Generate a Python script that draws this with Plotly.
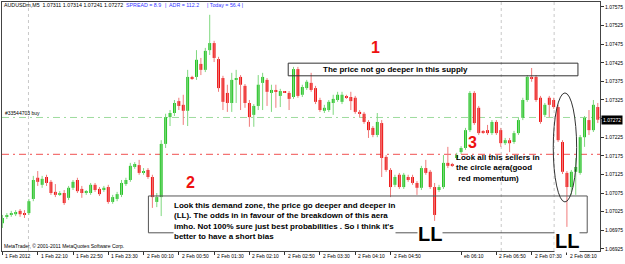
import plotly.graph_objects as go

# ---------------- data (AUDUSDm, M5) ----------------
open_p = [1.06994,1.07011,1.07016,1.07018,1.07027,1.07021,1.07021,1.07059,1.07116,1.07097,
          1.07118,1.07105,1.07078,1.07072,1.07075,1.07062,1.07089,1.07110,1.07086,1.07075,
          1.07075,1.07097,1.07086,1.07083,1.07091,1.07051,1.07059,1.07070,1.07099,1.07110,
          1.07145,1.07150,1.07129,1.07137,1.07118,1.07051,1.07064,1.07207,1.07279,1.07290,
          1.07322,1.07312,1.07296,1.07387,1.07387,1.07422,1.07406,1.07459,1.07478,1.07435,
          1.07384,1.07344,1.07317,1.07379,1.07387,1.07363,1.07317,1.07285,1.07309,1.07371,
          1.07379,1.07344,1.07352,1.07336,1.07348,1.07344,1.07333,1.07408,1.07339,1.07357,
          1.07371,1.07357,1.07325,1.07296,1.07298,1.07317,1.07325,1.07320,1.07334,1.07333,
          1.07331,1.07293,1.07288,1.07266,1.07250,1.07231,1.07263,1.07172,1.07137,1.07097,
          1.07124,1.07091,1.07118,1.07118,1.07102,1.07089,1.07142,1.07132,1.07091,1.07083,
          1.07091,1.07156,1.07151,1.07169,1.07185,1.07196,1.07244,1.07344,1.07304,1.07240,
          1.07244,1.07236,1.07266,1.07244,1.07209,1.07217,1.07212,1.07236,1.07277,1.07325,
          1.07387,1.07387,1.07331,1.07285,1.07331,1.07325,1.07306,1.07212,1.07129,1.07091,
          1.07132,1.07129,1.07225,1.07271,1.07244,1.07306]
high_p = [1.07016,1.07021,1.07027,1.07029,1.07032,1.07029,1.07059,1.07121,1.07134,1.07121,
          1.07124,1.07110,1.07099,1.07080,1.07083,1.07094,1.07110,1.07116,1.07094,1.07083,
          1.07102,1.07102,1.07091,1.07094,1.07097,1.07070,1.07078,1.07110,1.07116,1.07156,
          1.07158,1.07164,1.07142,1.07142,1.07124,1.07075,1.07217,1.07288,1.07298,1.07325,
          1.07331,1.07339,1.07406,1.07390,1.07459,1.07438,1.07465,1.07554,1.07484,1.07441,
          1.07390,1.07366,1.07398,1.07406,1.07392,1.07368,1.07325,1.07314,1.07392,1.07398,
          1.07384,1.07366,1.07366,1.07355,1.07349,1.07349,1.07414,1.07414,1.07366,1.07379,
          1.07398,1.07363,1.07331,1.07312,1.07325,1.07339,1.07347,1.07347,1.07339,1.07347,
          1.07336,1.07298,1.07293,1.07271,1.07255,1.07290,1.07271,1.07177,1.07142,1.07124,
          1.07129,1.07129,1.07124,1.07124,1.07107,1.07148,1.07164,1.07137,1.07102,1.07097,
          1.07177,1.07199,1.07156,1.07183,1.07201,1.07250,1.07349,1.07349,1.07309,1.07244,
          1.07258,1.07271,1.07271,1.07250,1.07223,1.07223,1.07242,1.07277,1.07331,1.07392,
          1.07411,1.07392,1.07336,1.07317,1.07336,1.07331,1.07312,1.07217,1.07134,1.07137,
          1.07169,1.07231,1.07282,1.07298,1.07325,1.07317]
low_p = [1.06981,1.07005,1.07011,1.07013,1.07011,1.07008,1.07016,1.07053,1.07094,1.07089,
         1.07094,1.07070,1.07064,1.07067,1.07043,1.07056,1.07083,1.07075,1.07062,1.07070,
         1.07070,1.07078,1.07067,1.07078,1.07046,1.07046,1.07053,1.07064,1.07094,1.07105,
         1.07140,1.07124,1.07124,1.07113,1.07035,1.07037,1.07013,1.07196,1.07255,1.07282,
         1.07298,1.07258,1.07255,1.07379,1.07379,1.07392,1.07400,1.07446,1.07427,1.07347,
         1.07298,1.07293,1.07293,1.07317,1.07298,1.07304,1.07253,1.07253,1.07298,1.07298,
         1.07309,1.07293,1.07304,1.07306,1.07344,1.07298,1.07328,1.07331,1.07333,1.07352,
         1.07347,1.07314,1.07293,1.07290,1.07293,1.07285,1.07320,1.07314,1.07328,1.07298,
         1.07288,1.07279,1.07261,1.07223,1.07225,1.07225,1.07118,1.07132,1.07064,1.07091,
         1.07086,1.07086,1.07105,1.07097,1.07070,1.07083,1.07124,1.07086,1.07000,1.07078,
         1.07086,1.07142,1.07145,1.07164,1.07180,1.07191,1.07239,1.07258,1.07231,1.07234,
         1.07231,1.07231,1.07231,1.07199,1.07204,1.07185,1.07207,1.07231,1.07271,1.07320,
         1.07374,1.07320,1.07261,1.07279,1.07279,1.07301,1.07212,1.07126,1.06984,1.07070,
         1.07070,1.07124,1.07199,1.07231,1.07239,1.07263]
close_p = [1.07008,1.07016,1.07021,1.07024,1.07018,1.07016,1.07053,1.07110,1.07105,1.07113,
           1.07102,1.07075,1.07070,1.07075,1.07048,1.07089,1.07105,1.07080,1.07075,1.07078,
           1.07097,1.07083,1.07072,1.07089,1.07051,1.07064,1.07072,1.07102,1.07110,1.07148,
           1.07153,1.07129,1.07134,1.07118,1.07064,1.07064,1.07207,1.07279,1.07290,1.07317,
           1.07309,1.07296,1.07387,1.07384,1.07433,1.07406,1.07457,1.07478,1.07438,1.07357,
           1.07320,1.07317,1.07379,1.07384,1.07366,1.07317,1.07279,1.07309,1.07366,1.07387,
           1.07347,1.07352,1.07347,1.07349,1.07346,1.07328,1.07408,1.07336,1.07360,1.07374,
           1.07352,1.07320,1.07298,1.07304,1.07320,1.07328,1.07339,1.07339,1.07332,1.07322,
           1.07293,1.07288,1.07266,1.07244,1.07231,1.07266,1.07169,1.07137,1.07091,1.07118,
           1.07091,1.07124,1.07110,1.07102,1.07089,1.07142,1.07129,1.07091,1.07016,1.07091,
           1.07156,1.07148,1.07149,1.07177,1.07196,1.07244,1.07344,1.07263,1.07236,1.07238,
           1.07236,1.07266,1.07236,1.07209,1.07217,1.07209,1.07236,1.07271,1.07325,1.07387,
           1.07384,1.07325,1.07266,1.07312,1.07312,1.07306,1.07217,1.07132,1.07091,1.07132,
           1.07145,1.07225,1.07277,1.07244,1.07312,1.07272]

time_label_idx = [0, 8, 16, 24, 32, 40, 48, 56, 64, 72, 80, 88, 104, 112, 120, 128]
time_labels = ["1 Feb 2012", "1 Feb 22:10", "1 Feb 22:50", "1 Feb 23:30", "2 Feb 00:10",
               "2 Feb 00:50", "2 Feb 01:30", "2 Feb 02:10", "2 Feb 02:50", "2 Feb 03:30",
               "2 Feb 04:10", "2 Feb 04:50", "eb 06:10", "2 Feb 06:50", "2 Feb 07:30",
               "2 Feb 08:10"]
price_ticks = [1.06925, 1.06975, 1.07025, 1.07075, 1.07125, 1.07175, 1.07225,
               1.07275, 1.07325, 1.07375, 1.07425, 1.07475, 1.07525, 1.07575]
price_tick_text = ["1.06925", "1.06975", "1.07025", "1.07075", "1.07125", "1.07175", "1.07225",
                   "", "1.07325", "1.07375", "1.07425", "1.07475", "1.07525", "1.07575"]

buy_level = 1.07278
stop_level = 1.07179
last_price = 1.07272
supply_zone = (1.07390, 1.07424)
demand_zone = (1.06968, 1.07067)

# ---------------- layout helpers (pixel -> paper) ----------------
W, H = 625, 264
PL, PR, PT, PB = 2, 600, 2, 251
def fx(px):
    return (px - PL) / (PR - PL)
def fy(py):
    return (PB - py) / (PB - PT)

n = len(open_p)
idx = list(range(n))
UP, DN = "#22c322", "#ee1111"
UPW, DNW = "#7fd87f", "#f07a7a"

fig = go.Figure()

# wicks
for col, cond in ((UPW, True), (DNW, False)):
    xs, ys = [], []
    for i in idx:
        if (close_p[i] >= open_p[i]) == cond:
            xs += [i, i, None]
            ys += [low_p[i], high_p[i], None]
    fig.add_trace(go.Scatter(x=xs, y=ys, mode="lines", line=dict(color=col, width=1),
                             hoverinfo="skip", showlegend=False))

# bodies
min_body = 0.00003
bases, heights, cols = [], [], []
for i in idx:
    lo_b = min(open_p[i], close_p[i])
    h = abs(close_p[i] - open_p[i])
    if h < min_body:
        lo_b -= (min_body - h) / 2
        h = min_body
    bases.append(lo_b)
    heights.append(h)
    cols.append(UP if close_p[i] >= open_p[i] else DN)
fig.add_trace(go.Bar(x=idx, y=heights, base=bases, width=0.66,
                     marker=dict(color=cols, line=dict(width=0)),
                     showlegend=False, hoverinfo="skip"))

shapes = []
# horizontal order lines
shapes.append(dict(type="line", xref="paper", yref="y", x0=0, x1=1, y0=buy_level, y1=buy_level,
                   line=dict(color="#9edc9e", width=1, dash="7px,4px,2px,4px"), layer="below"))
shapes.append(dict(type="line", xref="paper", yref="y", x0=0, x1=1, y0=stop_level, y1=stop_level,
                   line=dict(color="#f05050", width=1, dash="7px,4px,2px,4px"), layer="below"))
# vertical dashed lines
for vx in (5.9, 113.1, 125.1):
    shapes.append(dict(type="line", xref="x", yref="paper", x0=vx, x1=vx, y0=0, y1=1,
                       line=dict(color="#c8c8c8", width=1, dash="3px,3px"), layer="below"))
# supply rectangle
shapes.append(dict(type="rect", xref="x", yref="y", x0=64.8, x1=130.5,
                   y0=supply_zone[0], y1=supply_zone[1],
                   line=dict(color="#333333", width=1), fillcolor="rgba(0,0,0,0)"))
# demand rectangle
shapes.append(dict(type="rect", xref="x", yref="y", x0=33.1, x1=132.6,
                   y0=demand_zone[0], y1=demand_zone[1],
                   line=dict(color="#555555", width=1), fillcolor="rgba(0,0,0,0)"))
# ellipse
shapes.append(dict(type="circle", xref="x", yref="y", x0=124.9, x1=130.2,
                   y0=1.07051, y1=1.07344, line=dict(color="#333333", width=1)))

ann = []
SMALL = "Liberation Sans, Arial, sans-serif"
def text(px, py, s, size=5, color="black", bold=False, xanchor="left", bg=None, yanchor="middle"):
    d = dict(xref="paper", yref="paper", x=fx(px), y=fy(py), text=(f"<b>{s}</b>" if bold else s),
             showarrow=False, xanchor=xanchor, yanchor=yanchor, align="left",
             font=dict(family=SMALL, size=size, color=color), borderpad=0)
    if bg:
        d["bgcolor"] = bg
    ann.append(d)

# header
text(3, 5, "AUDUSDm,M5  1.07311 1.07314 1.07241 1.07272", size=5.3)
text(125, 5, "SPREAD = 8.9", size=5.3, color="#3333ff")
text(164, 5, "|  ADR = 112.2", size=5.3, color="#3333ff")
text(206, 5, "| Today = 56.4 |", size=5.3, color="#3333ff")
text(4, 113, "#33544703 buy", size=5)
text(3, 246, "MetaTrader, © 2001-2011 MetaQuotes Software Corp.", size=5)

# big numbers
text(375, 47, "1", size=16, color="#ee1111", bold=True, xanchor="center")
text(190, 183, "2", size=16, color="#ee1111", bold=True, xanchor="center")
text(472, 143, "3", size=16, color="#ee1111", bold=True, xanchor="center")

text(322, 70, "The price not go deeper in this supply", size=8, bold=True, bg="white")
text(173, 221, "Look this demand zone, the price go deeper and deeper in<br>"
               "(LL). The odds in in favour of the breakdown of this aera<br>"
               "imho. Not 100% sure just best probabilities . So i think it's<br>"
               "better to have a short bias", size=8, bold=True, bg="white")
text(455, 168, "Look all this sellers in<br>the circle aera(good<br> red momentum)", size=8, bold=True)
text(430, 234, "LL", size=20, bold=True, xanchor="center", bg="white")
text(567, 241, "LL", size=20, bold=True, xanchor="center", bg="white")

# price box
ann.append(dict(xref="paper", yref="y", x=1.0, y=last_price, text="1.07272", showarrow=False,
                xanchor="left", yanchor="middle", bgcolor="black", borderpad=1,
                xshift=1, font=dict(family=SMALL, size=5, color="white")))

# time labels
for i, lab in zip(time_label_idx, time_labels):
    ann.append(dict(xref="x", yref="paper", x=i, y=fy(256), text=lab, showarrow=False,
                    xanchor="left", yanchor="middle", xshift=1,
                    font=dict(family=SMALL, size=5, color="black")))

fig.update_layout(
    width=W, height=H,
    margin=dict(l=PL, r=W - PR, t=PT, b=H - PB, pad=0),
    paper_bgcolor="white", plot_bgcolor="white",
    shapes=shapes, annotations=ann, showlegend=False,
    xaxis=dict(range=[-0.1, 135.5], tickvals=time_label_idx, showticklabels=False,
               ticks="outside", ticklen=3, tickcolor="#333", showgrid=False, zeroline=False,
               showline=True, linecolor="#444", linewidth=1, mirror=True),
    yaxis=dict(range=[1.069191, 1.075884], side="right", tickvals=price_ticks,
               ticktext=price_tick_text, ticks="outside", ticklen=3,
               tickcolor="#333", tickfont=dict(family=SMALL, size=5, color="black"),
               showgrid=False, zeroline=False, showline=True, linecolor="#444",
               linewidth=1, mirror=True),
)

fig.write_html("out.html")
